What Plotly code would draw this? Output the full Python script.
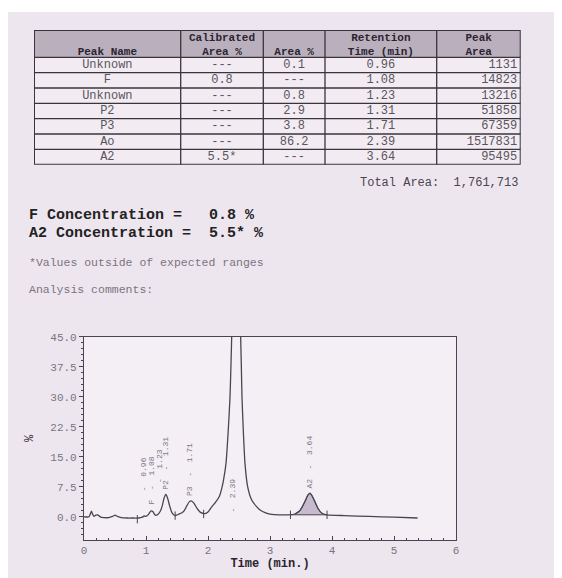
import itertools
import plotly.graph_objects as go

# The page body adds an 8px margin, so the figure is drawn 8px smaller and
# every reference pixel position is shifted by that margin.
OFF = 8
W, H = 562 - OFF, 578 - OFF

# ---- table data ----
peak_names = ["Unknown", "F", "Unknown", "P2", "P3", "Ao", "A2"]
calibrated_area = ["---", "0.8", "---", "---", "---", "---", "5.5*"]
area_pct = ["0.1", "---", "0.8", "2.9", "3.8", "86.2", "---"]
retention_time = [0.96, 1.08, 1.23, 1.31, 1.71, 2.39, 3.64]
peak_area = [1131, 14823, 13216, 51858, 67359, 1517831, 95495]
total_area = 1761713
header_line1 = ["", "Calibrated", "", "Retention", "Peak"]
header_line2 = ["Peak Name", "Area %", "Area %", "Time (min)", "Area"]

f_conc = "0.8"
a2_conc = "5.5*"

# ---- chromatogram trace (min, %) ----
trace_time = [0.00, 0.08, 0.10, 0.12, 0.14, 0.16, 0.19, 0.22, 0.26, 0.32, 0.40, 0.46,
              0.50, 0.54, 0.60, 0.70, 0.80, 0.88, 0.94, 0.97, 1.00, 1.04, 1.08, 1.11,
              1.15, 1.19, 1.23, 1.26, 1.29, 1.32, 1.35, 1.38, 1.42, 1.47, 1.52, 1.58,
              1.62, 1.66, 1.70, 1.73, 1.77, 1.82, 1.88, 1.95, 2.00, 2.06, 2.12, 2.18,
              2.22, 2.25, 2.29, 2.327, 2.355, 2.371, 2.382, 2.455, 2.527, 2.537, 2.548,
              2.569, 2.597, 2.64, 2.705, 2.78, 2.84, 2.93, 3.03, 3.15, 3.30, 3.40, 3.48,
              3.52, 3.57, 3.61, 3.645, 3.68, 3.73, 3.77, 3.81, 3.86, 3.92, 4.20, 4.60,
              5.00, 5.38]
trace_signal = [0.0, 0.0, 0.6, 1.4, 0.6, 0.1, 0.4, 0.5, 0.0, -0.2, -0.2, 0.1,
                0.4, 0.1, -0.2, -0.3, -0.3, -0.3, -0.1, 0.2, 0.1, 0.6, 1.5, 1.3,
                0.4, 0.6, 1.4, 2.6, 4.6, 5.6, 4.6, 2.8, 1.0, 0.3, 0.6, 1.0,
                1.6, 2.8, 3.8, 4.0, 3.5, 2.2, 1.1, 0.8, 1.2, 2.5, 3.6, 5.0,
                7.0, 9.2, 13.3, 21.7, 30.0, 38.3, 45.0, 130.0, 45.0, 38.3, 30.0,
                21.7, 13.3, 7.5, 4.2, 2.6, 1.7, 1.0, 0.6, 0.5, 0.5, 0.7, 1.5,
                2.5, 4.0, 5.4, 5.9, 5.2, 3.6, 2.2, 1.3, 0.7, 0.5, 0.3, 0.1,
                -0.1, -0.3]

# shaded A2 peak (start / end of integration)
a2_start, a2_end = 3.33, 3.92
a2_base = [0.5, 0.5]

# peak delimiter ticks
delim_time = [0.86, 1.47, 1.93, 3.33, 3.92]
delim_signal = [-0.6, 0.3, 0.7, 0.5, 0.5]

# label baselines (bottom of rotated labels)
label_bottom = [5.8, 2.6, 8.0, 6.2, 4.6, 0.6, 6.6]

PAPER = "rgb(238,230,238)"
PLOTBG = "rgb(244,239,244)"
INK = "#4a4450"
MONO = "Liberation Mono"


def px(X):
    return (X - OFF) / W


def py(Y):
    return 1 - (Y - OFF) / H


fig = go.Figure()

# ---------------- table drawn on its own axes (x2 / y2, units = pixels) -------------
col_w = [146.7, 82.6, 61.7, 111.7, 84.0]
head_h, row_h = 27.3, 15.35
n_rows = len(peak_names)
tab_w = sum(col_w)
tab_h = head_h + n_rows * row_h
col_edges = [0] + list(itertools.accumulate(col_w))
col_mid = [(a + b) / 2 for a, b in zip(col_edges[:-1], col_edges[1:])]
row_mid = [head_h + (i + 0.5) * row_h for i in range(n_rows)]

TLINE = "#3a343e"
fig.add_shape(type="rect", xref="x2", yref="y2", x0=0, x1=tab_w, y0=0, y1=head_h,
              fillcolor="rgb(186,176,189)", line_width=0, layer="below")
fig.add_shape(type="rect", xref="x2", yref="y2", x0=0, x1=tab_w, y0=head_h, y1=tab_h,
              fillcolor="rgb(242,236,242)", line_width=0, layer="below")
for i in range(n_rows):
    yy = head_h + i * row_h
    fig.add_shape(type="line", xref="x2", yref="y2", x0=0, x1=tab_w, y0=yy, y1=yy,
                  line=dict(color=TLINE, width=1.3))
for xx in col_edges[1:-1]:
    fig.add_shape(type="line", xref="x2", yref="y2", x0=xx, x1=xx, y0=0, y1=tab_h,
                  line=dict(color=TLINE, width=1.3))
fig.add_shape(type="rect", xref="x2", yref="y2", x0=0, x1=tab_w, y0=0, y1=tab_h,
              line=dict(color=TLINE, width=2))

# header text
fig.add_trace(go.Scatter(
    x=col_mid * 2, y=[8.3] * 5 + [22.0] * 5,
    text=[f"<b>{t}</b>" for t in header_line1 + header_line2],
    mode="text", textposition="middle center", xaxis="x2", yaxis="y2",
    textfont=dict(family=MONO, size=11, color="#2a2430"),
    cliponaxis=False, hoverinfo="skip", showlegend=False))

# body text (centered columns)
cell_cols = [peak_names, calibrated_area, area_pct, [f"{v:.2f}" for v in retention_time]]
bx, by, bt = [], [], []
for c, vals in enumerate(cell_cols):
    for r, v in enumerate(vals):
        bx.append(col_mid[c]); by.append(row_mid[r]); bt.append(v)
fig.add_trace(go.Scatter(
    x=bx, y=by, text=bt, mode="text", textposition="middle center",
    xaxis="x2", yaxis="y2",
    textfont=dict(family=MONO, size=12, color="#5a5460"),
    cliponaxis=False, hoverinfo="skip", showlegend=False))
# right-aligned peak areas
fig.add_trace(go.Scatter(
    x=[tab_w - 3.5] * n_rows, y=row_mid, text=[str(v) for v in peak_area],
    mode="text", textposition="middle left", xaxis="x2", yaxis="y2",
    textfont=dict(family=MONO, size=12, color="#5a5460"),
    cliponaxis=False, hoverinfo="skip", showlegend=False))

# ---------------- chromatogram ----------------
a2_t = [t for t in trace_time if a2_start <= t <= a2_end]
a2_v = [v for t, v in zip(trace_time, trace_signal) if a2_start <= t <= a2_end]
fig.add_trace(go.Scatter(x=[a2_start, a2_end], y=a2_base, mode="lines",
                         line=dict(color=INK, width=1), showlegend=False,
                         hoverinfo="skip"))
fig.add_trace(go.Scatter(x=a2_t, y=a2_v, mode="lines", fill="tonexty",
                         fillcolor="rgba(190,176,200,0.85)",
                         line=dict(color=INK, width=1), showlegend=False,
                         hoverinfo="skip"))

fig.add_trace(go.Scatter(x=trace_time, y=trace_signal, mode="lines",
                         line=dict(color=INK, width=1.3, shape="spline", smoothing=0.6),
                         showlegend=False))

fig.add_trace(go.Scatter(x=delim_time, y=delim_signal, mode="markers",
                         marker=dict(symbol="line-ns", size=6,
                                     line=dict(color=INK, width=1)),
                         showlegend=False, hoverinfo="skip"))

for name, rt, yb in zip(peak_names, retention_time, label_bottom):
    nm = "" if name in ("Unknown", "Ao") else name
    txt = f"{nm}  -  {rt:.2f}" if nm else f"-  {rt:.2f}"
    fig.add_annotation(x=rt, y=yb, xref="x", yref="y", text=txt, textangle=-90,
                       showarrow=False, xanchor="center", yanchor="bottom",
                       font=dict(family=MONO, size=8, color="#7a7280"))

texts = [
    (520, 183, f"Total Area:  {total_area:,}", 12, "#4a4450", False, "right"),
    (27, 215, f"F Concentration =   {f_conc} %", 15, "#222", True, "left"),
    (27, 233, f"A2 Concentration =  {a2_conc} %", 15, "#222", True, "left"),
    (27, 262, "*Values outside of expected ranges", 11.5, "#7a7480", False, "left"),
    (27, 289, "Analysis comments:", 11.5, "#7a7480", False, "left"),
]
for X, Y, t, s, c, b, al in texts:
    fig.add_annotation(x=px(X), y=py(Y), xref="paper", yref="paper",
                       text=f"<b>{t}</b>" if b else t, showarrow=False,
                       xanchor=al, yanchor="middle",
                       font=dict(family=MONO, size=s, color=c))

# white strip at the top of the photo
fig.add_shape(type="rect", xref="paper", yref="paper", x0=0, x1=1, y0=py(12), y1=1,
              fillcolor="white", line_width=0, layer="below")

fig.update_layout(
    width=W, height=H,
    margin=dict(l=0, r=0, t=0, b=0),
    paper_bgcolor=PAPER,
    plot_bgcolor=PLOTBG,
    showlegend=False,
    xaxis=dict(domain=[px(84), px(456)], range=[0, 6], dtick=1, tick0=0,
               showline=True, mirror=True, linecolor="#4a4450", linewidth=1.2,
               ticks="inside", ticklen=4, tickcolor="#4a4450",
               minor=dict(dtick=0.2, ticks="inside", ticklen=2, tickcolor="#4a4450"),
               showgrid=False, zeroline=False, automargin=False,
               tickfont=dict(family=MONO, size=11, color="#7a7480"),
               title=dict(text="<b>Time (min.)</b>", standoff=2,
                          font=dict(family=MONO, size=12, color="#2a2430"))),
    yaxis=dict(domain=[py(540), py(336.7)], range=[-5.8, 45.05],
               dtick=7.5, tick0=0, tickformat=".1f",
               showline=True, mirror=True, linecolor="#4a4450", linewidth=1.2,
               ticks="outside", ticklen=4, tickcolor="#4a4450",
               minor=dict(dtick=1.5, ticks="outside", ticklen=2, tickcolor="#4a4450"),
               showgrid=False, zeroline=False, automargin=False,
               tickfont=dict(family=MONO, size=11, color="#7a7480"),
               title=dict(text="%", standoff=14,
                          font=dict(family=MONO, size=12, color="#2a2430"))),
    xaxis2=dict(domain=[px(34), px(520.7)], range=[0, tab_w], anchor="y2",
                visible=False, fixedrange=True),
    yaxis2=dict(domain=[py(164.7), py(30)], range=[tab_h, 0], anchor="x2",
                visible=False, fixedrange=True),
)

fig.write_html("out.html")
